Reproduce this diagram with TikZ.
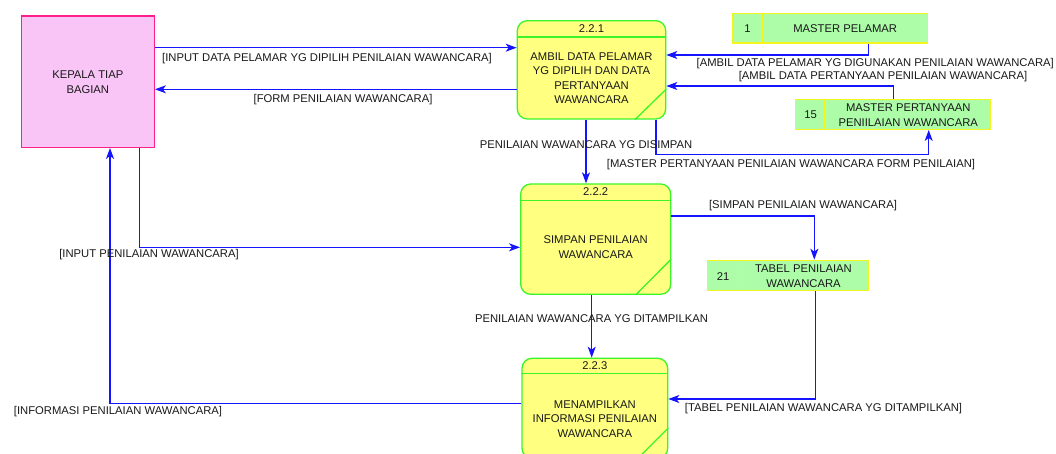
\documentclass[tikz,border=0pt]{standalone}
\usepackage{fontspec}
\setmainfont{Liberation Sans}
\usetikzlibrary{arrows.meta}
\definecolor{flowblue}{RGB}{20,20,255}
\definecolor{entfill}{RGB}{249,196,246}
\definecolor{entborder}{RGB}{255,30,140}
\definecolor{procfill}{RGB}{255,255,128}
\definecolor{procborder}{RGB}{60,245,40}
\definecolor{storefill}{RGB}{172,252,168}
\definecolor{storeborder}{RGB}{245,245,30}
\definecolor{txt}{RGB}{25,25,25}
\begin{document}
\begin{tikzpicture}[x=1pt,y=-1pt,
  font=\fontsize{11.25}{14.5}\selectfont,
  flowline/.style={draw=flowblue, line width=1.1pt},
  flow/.style={flowline, -{Stealth[length=11pt,width=8pt,inset=3pt]}},
  lbl/.style={text=txt, inner sep=0pt},
  ptext/.style={text=txt, inner sep=0pt, align=center},
  ent/.style={draw=entborder, fill=entfill, line width=1.3pt, inner sep=0pt},
  proc/.style={draw=procborder, fill=procfill, line width=1.3pt, rounded corners=10pt, inner sep=0pt},
  pline/.style={draw=procborder, line width=1.3pt},
  store/.style={draw=storeborder, fill=storefill, line width=1.3pt, inner sep=0pt},
  sline/.style={draw=storeborder, line width=1.3pt}]
\useasboundingbox (0,0) rectangle (1056,454);
\clip (0,0) rectangle (1056,454);

% external entity
\node[ent, minimum width=133pt, minimum height=131.3pt] (ent) at (87.8,81.65) {};
\node[ptext] (entt) at (87.8,82) {KEPALA TIAP\\BAGIAN};

% process 2.2.1
\node[proc, minimum width=148.4pt, minimum height=98.3pt] (p1) at (591.5,69.85) {};
\draw[pline] ([yshift=-17pt]p1.north west) -- ([yshift=-17pt]p1.north east);
\draw[pline] ([xshift=-31.4pt]p1.south east) -- ([yshift=30.7pt]p1.south east);
\node[lbl] (p1n) at ([yshift=-8.5pt]p1.north) {2.2.1};
\node[ptext] (p1t) at (591.5,78.3) {AMBIL DATA PELAMAR\\YG DIPILIH DAN DATA\\PERTANYAAN\\WAWANCARA};

% process 2.2.2
\node[proc, minimum width=150pt, minimum height=110.3pt] (p2) at (595.7,239.15) {};
\draw[pline] ([yshift=-17.3pt]p2.north west) -- ([yshift=-17.3pt]p2.north east);
\draw[pline] ([xshift=-35.7pt]p2.south east) -- ([yshift=36pt]p2.south east);
\node[lbl] (p2n) at ([yshift=-8.7pt]p2.north) {2.2.2};
\node[ptext] (p2t) at (595.7,247.3) {SIMPAN PENILAIAN\\WAWANCARA};

% process 2.2.3
\node[proc, minimum width=145.7pt, minimum height=100pt] (p3) at (594.85,408.3) {};
\draw[pline] ([yshift=-15.7pt]p3.north west) -- ([yshift=-15.7pt]p3.north east);
\draw[pline] ([xshift=-31pt]p3.south east) -- ([yshift=31pt]p3.south east);
\node[lbl] (p3n) at ([yshift=-8.3pt]p3.north) {2.2.3};
\node[ptext] (p3t) at (594.85,419) {MENAMPILKAN\\INFORMASI PENILAIAN\\WAWANCARA};

% data stores
\node[store, minimum width=195.4pt, minimum height=29.7pt] (ds1) at (830,28.15) {};
\draw[sline] ([xshift=30.4pt]ds1.north west) -- ([xshift=30.4pt]ds1.south west);
\node[lbl] (ds1n) at (747.5,28.5) {1};
\node[ptext] (ds1t) at (845.2,28.5) {MASTER PELAMAR};

\node[store, minimum width=195pt, minimum height=30pt] (ds15) at (893.2,114.3) {};
\draw[sline] ([xshift=30pt]ds15.north west) -- ([xshift=30pt]ds15.south west);
\node[lbl] (ds15n) at (810.7,115) {15};
\node[ptext] (ds15t) at (908.2,115.3) {MASTER PERTANYAAN\\PENIILAIAN WAWANCARA};

\node[store, minimum width=161pt, minimum height=30pt] (ds21) at (788.2,275.3) {};
\draw[sline] ([xshift=30.6pt]ds21.north west) -- ([xshift=30.6pt]ds21.south west);
\node[lbl] (ds21n) at (723,276.3) {21};
\node[ptext] (ds21t) at (803.5,276) {TABEL PENILAIAN\\WAWANCARA};

% flows
\draw[flow] (ent.east |- 0,47.7) -- (p1.west |- 0,47.7);
\draw[flow] (p1.west |- 0,89.3) -- (ent.east |- 0,89.3);
\draw[flow] (868.3,0 |- ds1.south) |- (p1.east |- 0,55);
\draw[flow] (893.3,0 |- ds15.north) |- (p1.east |- 0,86);
\draw[flow] (656,0 |- p1.south) |- (928.7,154.3) -- (928.7,0 |- ds15.south);
\draw[flow] (586,0 |- p1.south) -- (586,0 |- p2.north);
\draw[flow] (139.3,0 |- ent.south) |- (p2.west |- 0,247.3);
\draw[flow] (p2.east |- 0,216) -| (814.3,0 |- ds21.north);
\draw[flow] (591.7,0 |- p2.south) -- (591.7,0 |- p3.north);
\draw[flow] (815.7,0 |- ds21.south) |- (p3.east |- 0,399);
\draw[flow] (p3.west |- 0,403.3) -| (110,0 |- ent.south);

% labels
\node[lbl] (l1) at (327,58.3) {[INPUT DATA PELAMAR YG DIPILIH PENILAIAN WAWANCARA]};
\node[lbl] (l2) at (343,100) {[FORM PENILAIAN WAWANCARA]};
\node[lbl, anchor=east] (l3) at (1054,63.3) {[AMBIL DATA PELAMAR YG DIGUNAKAN PENILAIAN WAWANCARA]};
\node[lbl] (l4) at (883,76.7) {[AMBIL DATA PERTANYAAN PENILAIAN WAWANCARA]};
\node[lbl] (l5) at (586,145) {PENILAIAN WAWANCARA YG DISIMPAN};
\node[lbl] (l6) at (791,165) {[MASTER PERTANYAAN PENILAIAN WAWANCARA FORM PENILAIAN]};
\node[lbl] (l7) at (803,206) {[SIMPAN PENILAIAN WAWANCARA]};
\node[lbl] (l8) at (149,255) {[INPUT PENILAIAN WAWANCARA]};
\node[lbl] (l9) at (591.5,319) {PENILAIAN WAWANCARA YG DITAMPILKAN};
\node[lbl] (l10) at (118,411.7) {[INFORMASI PENILAIAN WAWANCARA]};
\node[lbl] (l11) at (823.5,408.3) {[TABEL PENILAIAN WAWANCARA YG DITAMPILKAN]};
\end{tikzpicture}
\end{document}
